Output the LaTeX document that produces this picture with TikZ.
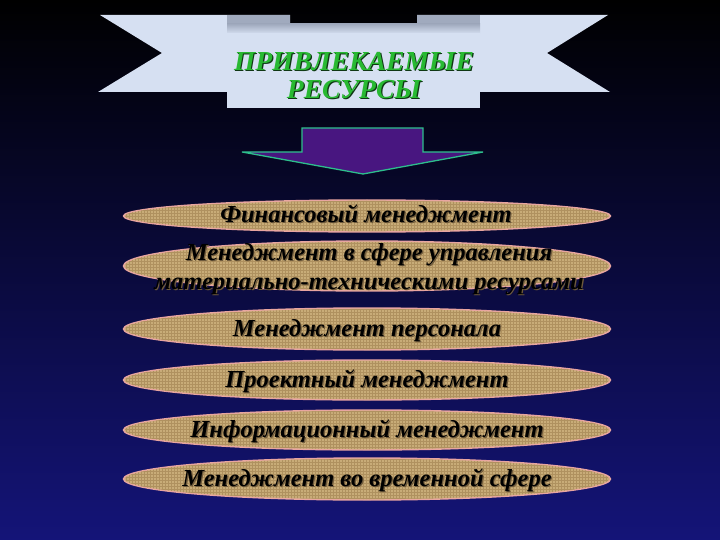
\documentclass[tikz,border=0pt]{standalone}
\usepackage{fontspec}
\setmainfont{Liberation Serif}
\usetikzlibrary{patterns}
\definecolor{ribbon}{RGB}{214,224,242}
\definecolor{ribbonfold}{RGB}{160,170,190}
\definecolor{titlegreen}{RGB}{40,185,50}
\definecolor{titleshadow}{RGB}{15,55,20}
\definecolor{burlap}{RGB}{200,172,120}
\definecolor{burlapdark}{RGB}{175,145,95}
\definecolor{burlapedge}{RGB}{232,165,160}
\definecolor{ovalshadow}{RGB}{110,90,60}
\definecolor{arrowfill}{RGB}{72,22,128}
\definecolor{arrowedge}{RGB}{45,190,140}
\definecolor{bgmid}{RGB}{8,8,75}
\definecolor{bgbottom}{RGB}{20,20,120}
\newcommand{\shadowed}[2]{\makebox[0pt][l]{\kern1.2pt\raisebox{-1.2pt}{\color{#1}#2}}#2}
\begin{document}
\begin{tikzpicture}[x=1pt,y=-1pt,
  ovalshape/.style={fill=burlap, draw=burlapedge, line width=1.4pt},
  ovalweave/.style={pattern=grid, pattern color=burlapdark},
  ovaltext/.style={inner sep=0pt, text=black, align=center,
    font=\bfseries\itshape\fontsize{24.5}{29}\selectfont},
  titletext/.style={text=titlegreen, align=center,
    font=\bfseries\itshape\fontsize{27.5}{28}\selectfont}]
\useasboundingbox (0,0) rectangle (720,540);
\shade[top color=black, middle color=bgmid, bottom color=bgbottom] (0,0) rectangle (720,540);
% banner tails
\fill[ribbon] (100,15) -- (290,15) -- (290,92) -- (98,92) -- (162,53) -- cycle;
\fill[ribbon] (417,15) -- (608,15) -- (547,53) -- (610,92) -- (417,92) -- cycle;
\fill[ribbonfold] (227,15) rectangle (290,27);
\fill[ribbonfold] (417,15) rectangle (480,27);
% banner centre panel
\shade[top color=ribbonfold, bottom color=ribbon] (227,24) rectangle (480,34);
\fill[ribbon] (227,33) rectangle (480,108);
\node[titletext] (title) at (354,76) {\shadowed{titleshadow}{ПРИВЛЕКАЕМЫЕ}\\\shadowed{titleshadow}{РЕСУРСЫ}};
% arrow
\draw[fill=arrowfill, draw=arrowedge, line width=1.3pt, line join=miter]
  (302,128) -- (423,128) -- (423,152) -- (483,152) -- (363,174) -- (242,152) -- (302,152) -- cycle;
% ovals
\foreach \cy/\ry in {216/16, 266/25, 329/21, 380/20, 430/20, 479/21}{
  \filldraw[ovalshape] (367,\cy) ellipse [x radius=243.5, y radius=\ry];
  \fill[ovalweave] (367,\cy) ellipse [x radius=242, y radius=\ry-1];
}
\node[ovaltext] (o1) at (366,214) {\shadowed{ovalshadow}{Финансовый менеджмент}};
\node[ovaltext] (o2) at (369,270) {\shadowed{ovalshadow}{Менеджмент в сфере управления}\\\shadowed{ovalshadow}{материально-техническими ресурсами}};
\node[ovaltext] (o3) at (367,331) {\shadowed{ovalshadow}{Менеджмент персонала}};
\node[ovaltext] (o4) at (367,382) {\shadowed{ovalshadow}{Проектный менеджмент}};
\node[ovaltext] (o5) at (367,432) {\shadowed{ovalshadow}{Информационный менеджмент}};
\node[ovaltext] (o6) at (367,481) {\shadowed{ovalshadow}{Менеджмент во временной сфере}};
\end{tikzpicture}
\end{document}
